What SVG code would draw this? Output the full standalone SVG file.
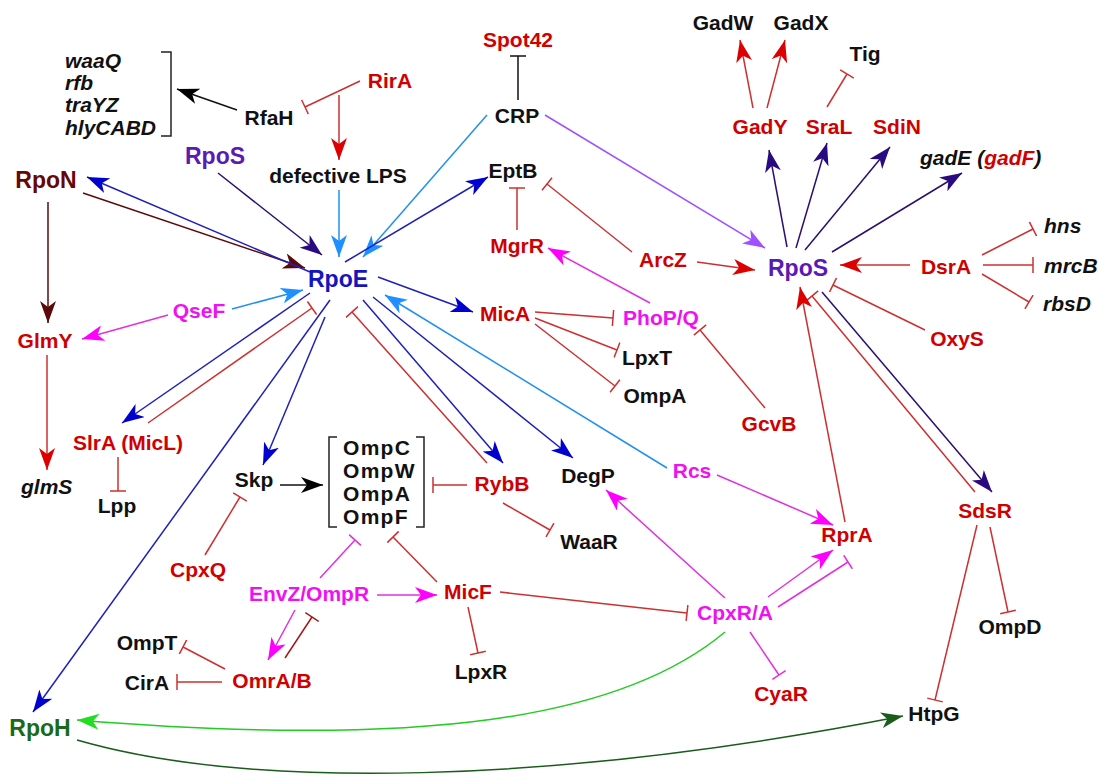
<svg xmlns="http://www.w3.org/2000/svg" width="1100" height="777" viewBox="0 0 1100 777">
<style>
text{font-family:"Liberation Sans",Arial,sans-serif;font-weight:bold;font-size:21px;text-anchor:middle}
.big{font-size:23px}
.it{font-style:italic;text-anchor:start}
.k{fill:#111}.r{fill:#d00000}.m{fill:#f010f0}.b{fill:#1414c0}.p{fill:#5a1ab4}.mr{fill:#650808}.g{fill:#1a6a1a}
.e{fill:none;stroke-width:1.5}
.sk{stroke:#111}.sr{stroke:#cc3030}.sdr{stroke:#a01818}.sm{stroke:#e030e0}.sb{stroke:#2020b8}.sn{stroke:#2a1070}
.sl{stroke:#2090f0}.sp{stroke:#a050ff}.smr{stroke:#5a0a0a}.sg{stroke:#22cc22}.sdg{stroke:#1a5c1a}
.ak{marker-end:url(#ak)}.ar{marker-end:url(#ar)}.am{marker-end:url(#am)}.ab{marker-end:url(#ab)}.an{marker-end:url(#an)}
.al{marker-end:url(#al)}.ap{marker-end:url(#ap)}.amr{marker-end:url(#amr)}.ag{marker-end:url(#ag)}.adg{marker-end:url(#adg)}
.tk{marker-end:url(#tk)}.tr{marker-end:url(#tr)}.tm{marker-end:url(#tm)}.tdr{marker-end:url(#tdr)}
</style>
<defs>
<marker id="ak" markerUnits="userSpaceOnUse" markerWidth="22" markerHeight="16" refX="22" refY="8" orient="auto"><path d="M22,8 L0,0 L6,8 L0,16 Z" fill="#000"/></marker>
<marker id="ar" markerUnits="userSpaceOnUse" markerWidth="22" markerHeight="16" refX="22" refY="8" orient="auto"><path d="M22,8 L0,0 L6,8 L0,16 Z" fill="#dd0000"/></marker>
<marker id="am" markerUnits="userSpaceOnUse" markerWidth="22" markerHeight="16" refX="22" refY="8" orient="auto"><path d="M22,8 L0,0 L6,8 L0,16 Z" fill="#ff00ff"/></marker>
<marker id="ab" markerUnits="userSpaceOnUse" markerWidth="22" markerHeight="16" refX="22" refY="8" orient="auto"><path d="M22,8 L0,0 L6,8 L0,16 Z" fill="#0000d0"/></marker>
<marker id="an" markerUnits="userSpaceOnUse" markerWidth="22" markerHeight="16" refX="22" refY="8" orient="auto"><path d="M22,8 L0,0 L6,8 L0,16 Z" fill="#2a0a80"/></marker>
<marker id="al" markerUnits="userSpaceOnUse" markerWidth="22" markerHeight="16" refX="22" refY="8" orient="auto"><path d="M22,8 L0,0 L6,8 L0,16 Z" fill="#1e90ff"/></marker>
<marker id="ap" markerUnits="userSpaceOnUse" markerWidth="22" markerHeight="16" refX="22" refY="8" orient="auto"><path d="M22,8 L0,0 L6,8 L0,16 Z" fill="#a050ff"/></marker>
<marker id="amr" markerUnits="userSpaceOnUse" markerWidth="22" markerHeight="16" refX="22" refY="8" orient="auto"><path d="M22,8 L0,0 L6,8 L0,16 Z" fill="#5a0a0a"/></marker>
<marker id="ag" markerUnits="userSpaceOnUse" markerWidth="22" markerHeight="16" refX="22" refY="8" orient="auto"><path d="M22,8 L0,0 L6,8 L0,16 Z" fill="#22dd22"/></marker>
<marker id="adg" markerUnits="userSpaceOnUse" markerWidth="22" markerHeight="16" refX="22" refY="8" orient="auto"><path d="M22,8 L0,0 L6,8 L0,16 Z" fill="#1a5c1a"/></marker>
<marker id="tk" markerUnits="userSpaceOnUse" markerWidth="4" markerHeight="16" refX="2" refY="8" orient="auto"><path d="M2,0 V16" stroke="#111" stroke-width="1.5"/></marker>
<marker id="tr" markerUnits="userSpaceOnUse" markerWidth="4" markerHeight="16" refX="2" refY="8" orient="auto"><path d="M2,0 V16" stroke="#cc3030" stroke-width="1.5"/></marker>
<marker id="tm" markerUnits="userSpaceOnUse" markerWidth="4" markerHeight="16" refX="2" refY="8" orient="auto"><path d="M2,0 V16" stroke="#e030e0" stroke-width="1.5"/></marker>
<marker id="tdr" markerUnits="userSpaceOnUse" markerWidth="4" markerHeight="16" refX="2" refY="8" orient="auto"><path d="M2,0 V16" stroke="#a01818" stroke-width="1.5"/></marker>
</defs>
<rect width="1100" height="777" fill="#fff"/>
<g id="connectors">
<path class="e sk ak" d="M237,110 L177,89"/>
<path class="e sr tr" d="M360,81 L305,107"/>
<path class="e sr ar" d="M339,95 L339,160"/>
<path class="e sk tk" d="M518,100 L518,56"/>
<path class="e sl al" d="M487,115 L363,257"/>
<path class="e sl al" d="M339,190 L339,257"/>
<path class="e sn an" d="M218,173 L322,255"/>
<path class="e smr amr" d="M83,193 L305,268"/>
<path class="e sb ab" d="M310,272 L87,177"/>
<path class="e sb ab" d="M345,262 L488,177"/>
<path class="e sr tr" d="M517,230 L517,188"/>
<path class="e sr tr" d="M632,252 L547,184"/>
<path class="e sr ar" d="M697,262 L755,270"/>
<path class="e sp ap" d="M545,115 L765,248"/>
<path class="e sr ar" d="M753,108 L740,40"/>
<path class="e sr ar" d="M767,108 L785,40"/>
<path class="e sr tr" d="M827,107 L847,74"/>
<path class="e sn an" d="M787,247 L769,150"/>
<path class="e sn an" d="M796,248 L827,143"/>
<path class="e sn an" d="M805,250 L890,147"/>
<path class="e sn an" d="M832,252 L962,173"/>
<path class="e sr ar" d="M910,265 L840,265"/>
<path class="e sr tr" d="M982,255 L1033,229"/>
<path class="e sr tr" d="M983,265 L1033,265"/>
<path class="e sr tr" d="M982,274 L1029,302"/>
<path class="e sr tr" d="M925,330 L833,285"/>
<path class="e sn an" d="M822,292 L992,492"/>
<path class="e sr tr" d="M975,492 L812,296"/>
<path class="e sr tr" d="M990,527 L1008,612"/>
<path class="e sr tr" d="M977,525 L935,700"/>
<path class="e sr ar" d="M845,522 L800,287"/>
<path class="e sm am" d="M717,475 L833,525"/>
<path class="e sl al" d="M667,468 L385,295"/>
<path class="e sm am" d="M768,597 L833,550"/>
<path class="e sm tm" d="M778,607 L848,562"/>
<path class="e sm am" d="M725,598 L606,490"/>
<path class="e sm tm" d="M750,632 L779,675"/>
<path class="e sr tr" d="M500,592 L687,613"/>
<path class="e sg ag" d="M725,632 C620,720 420,748 77,720"/>
<path class="e sdg adg" d="M77,740 C250,790 550,785 903,716"/>
<path class="e sb ab" d="M330,300 L33,712"/>
<path class="e sb ab" d="M378,277 L473,312"/>
<path class="e sr tr" d="M535,312 L613,318"/>
<path class="e sr tr" d="M535,318 L617,350"/>
<path class="e sr tr" d="M535,324 L615,386"/>
<path class="e sm am" d="M650,303 L548,248"/>
<path class="e sr tr" d="M765,408 L700,330"/>
<path class="e sb ab" d="M363,300 L503,463"/>
<path class="e sb ab" d="M373,297 L573,458"/>
<path class="e sr tr" d="M487,463 L352,312"/>
<path class="e sm am" d="M168,315 L82,339"/>
<path class="e sl al" d="M232,309 L303,290"/>
<path class="e smr amr" d="M48,202 L48,323"/>
<path class="e sr ar" d="M47,355 L47,470"/>
<path class="e sb ab" d="M310,293 L122,423"/>
<path class="e sr tr" d="M148,423 L312,308"/>
<path class="e sr tr" d="M118,457 L118,491"/>
<path class="e sb ab" d="M325,317 L263,465"/>
<path class="e sk ak" d="M280,485 L323,485"/>
<path class="e sr tr" d="M467,485 L433,485"/>
<path class="e sr tr" d="M503,503 L550,530"/>
<path class="e sr tr" d="M205,555 L240,497"/>
<path class="e sm tm" d="M320,578 L355,540"/>
<path class="e sr tr" d="M437,582 L393,537"/>
<path class="e sm am" d="M377,595 L437,595"/>
<path class="e sr tr" d="M468,607 L478,653"/>
<path class="e sm am" d="M295,610 L268,660"/>
<path class="e sdr tdr" d="M285,658 L312,617"/>
<path class="e sr tr" d="M225,669 L183,647"/>
<path class="e sr tr" d="M222,682 L177,682"/>
</g>
<g id="n-genes1"><text class="it k" x="65" y="68">waaQ</text><text class="it k" x="65" y="90">rfb</text><text class="it k" x="65" y="112">traYZ</text><text class="it k" x="65" y="135">hlyCABD</text><path d="M161,52 H171 V136 H161" fill="none" stroke="#222" stroke-width="1.5"/></g>
<g id="n-RfaH"><text class="k" x="269" y="125">RfaH</text></g>
<g id="n-RirA"><text class="r" x="390" y="88">RirA</text></g>
<g id="n-LPS"><text class="k" x="338" y="183">defective LPS</text></g>
<g id="n-Spot42"><text class="r" x="518" y="47">Spot42</text></g>
<g id="n-CRP"><text class="k" x="517" y="123">CRP</text></g>
<g id="n-EptB"><text class="k" x="513" y="178">EptB</text></g>
<g id="n-MgrR"><text class="r" x="517" y="253">MgrR</text></g>
<g id="n-ArcZ"><text class="r" x="663" y="267">ArcZ</text></g>
<g id="n-RpoS2"><text class="big p" x="798" y="276">RpoS</text></g>
<g id="n-GadW"><text class="k" x="723" y="30">GadW</text></g>
<g id="n-GadX"><text class="k" x="801" y="30">GadX</text></g>
<g id="n-GadY"><text class="r" x="760" y="134">GadY</text></g>
<g id="n-SraL"><text class="r" x="829" y="134">SraL</text></g>
<g id="n-SdiN"><text class="r" x="897" y="134">SdiN</text></g>
<g id="n-Tig"><text class="k" x="865" y="61">Tig</text></g>
<g id="n-gadE"><text class="it k" x="920" y="165">gadE (<tspan class="r">gadF</tspan>)</text></g>
<g id="n-DsrA"><text class="r" x="946" y="274">DsrA</text></g>
<g id="n-hns"><text class="it k" x="1044" y="233">hns</text></g>
<g id="n-mrcB"><text class="it k" x="1044" y="273">mrcB</text></g>
<g id="n-rbsD"><text class="it k" x="1043" y="311">rbsD</text></g>
<g id="n-OxyS"><text class="r" x="957" y="346">OxyS</text></g>
<g id="n-SdsR"><text class="r" x="985" y="518">SdsR</text></g>
<g id="n-OmpD"><text class="k" x="1010" y="634">OmpD</text></g>
<g id="n-HtpG"><text class="k" x="934" y="721">HtpG</text></g>
<g id="n-RpoH"><text class="big g" x="40" y="736">RpoH</text></g>
<g id="n-CpxRA"><text class="m" x="735" y="620">CpxR/A</text></g>
<g id="n-CyaR"><text class="r" x="781" y="701">CyaR</text></g>
<g id="n-DegP"><text class="k" x="588" y="483">DegP</text></g>
<g id="n-RprA"><text class="r" x="847" y="542">RprA</text></g>
<g id="n-Rcs"><text class="m" x="692" y="478">Rcs</text></g>
<g id="n-MicA"><text class="r" x="505" y="321">MicA</text></g>
<g id="n-PhoPQ"><text class="m" x="661" y="325">PhoP/Q</text></g>
<g id="n-LpxT"><text class="k" x="647" y="365">LpxT</text></g>
<g id="n-OmpA2"><text class="k" x="655" y="403">OmpA</text></g>
<g id="n-GcvB"><text class="r" x="769" y="431">GcvB</text></g>
<g id="n-RpoE"><text class="big b" x="338" y="287">RpoE</text></g>
<g id="n-RpoS1"><text class="big p" x="215" y="164">RpoS</text></g>
<g id="n-RpoN"><text class="big mr" x="46" y="188">RpoN</text></g>
<g id="n-GlmY"><text class="r" x="45" y="348">GlmY</text></g>
<g id="n-glmS"><text class="it k" x="21" y="494">glmS</text></g>
<g id="n-QseF"><text class="m" x="199" y="318">QseF</text></g>
<g id="n-SlrA"><text class="r" x="128" y="450">SlrA (MicL)</text></g>
<g id="n-Lpp"><text class="k" x="117" y="513">Lpp</text></g>
<g id="n-Skp"><text class="k" x="254" y="487">Skp</text></g>
<g id="n-Omps"><text class="k" x="343" y="455" style="text-anchor:start;letter-spacing:1.3px">OmpC</text><text class="k" x="343" y="478" style="text-anchor:start;letter-spacing:1.3px">OmpW</text><text class="k" x="343" y="501" style="text-anchor:start;letter-spacing:1.3px">OmpA</text><text class="k" x="343" y="524" style="text-anchor:start;letter-spacing:1.3px">OmpF</text><path d="M337,437 H329 V527 H337 M416,437 H424 V527 H416" fill="none" stroke="#222" stroke-width="1.5"/></g>
<g id="n-RybB"><text class="r" x="502" y="491">RybB</text></g>
<g id="n-WaaR"><text class="k" x="589" y="549">WaaR</text></g>
<g id="n-CpxQ"><text class="r" x="198" y="577">CpxQ</text></g>
<g id="n-EnvZ"><text class="m" x="309" y="601">EnvZ/OmpR</text></g>
<g id="n-MicF"><text class="r" x="468" y="599">MicF</text></g>
<g id="n-LpxR"><text class="k" x="481" y="679">LpxR</text></g>
<g id="n-OmrAB"><text class="r" x="272" y="688">OmrA/B</text></g>
<g id="n-OmpT"><text class="k" x="147" y="650">OmpT</text></g>
<g id="n-CirA"><text class="k" x="147" y="690">CirA</text></g>
</svg>
